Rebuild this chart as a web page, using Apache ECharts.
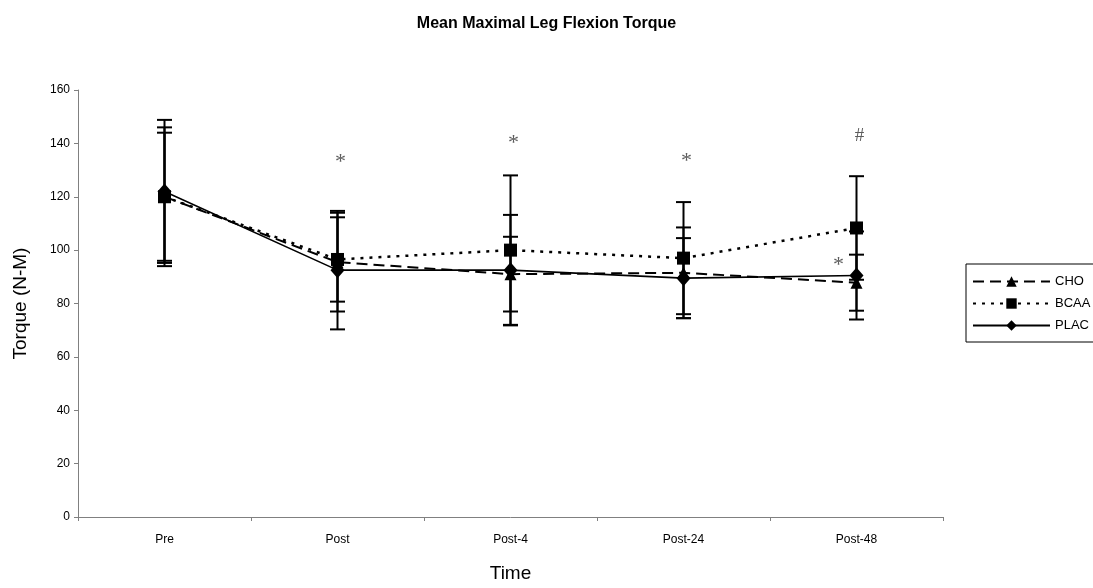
<!DOCTYPE html>
<html>
<head>
<meta charset="utf-8">
<script src="https://cdn.jsdelivr.net/npm/echarts@6/dist/echarts.min.js"></script>
<style>
html,body{margin:0;padding:0;background:#fff;}
#chart{width:1093px;height:588px;}
</style>
</head>
<body>
<div id="chart"></div>
<script>
const categories = ['Pre', 'Post', 'Post-4', 'Post-24', 'Post-48'];
const yTicks = [0, 20, 40, 60, 80, 100, 120, 140, 160];
const choMean = [120, 95.5, 91, 91.5, 87.8];
const choErr = [26, 18.5, 14, 17, 10.5];
const bcaaMean = [120, 96.5, 100, 97, 108.3];
const bcaaErr = [24, 15.8, 28, 21, 19.4];
const placMean = [122, 92.5, 92.5, 89.5, 90.5];
const placErr = [26.8, 22.2, 20.7, 15, 16.5];
const noteLabels = ['*', '*', '*', '#', '*'];
const noteCats = ['Post', 'Post-4', 'Post-24', 'Post-48', 'Post-48'];
const noteValues = [133.0, 140.2, 133.4, 142.6, 94.4];

const FONT = 'Liberation Sans, Arial, sans-serif';

function errData(mean, err) {
  return mean.map((m, i) => [i, m - err[i], m + err[i]]);
}
function errSeries(name, mean, err) {
  return {
    type: 'custom',
    name: name + ' err',
    z: 5,
    data: errData(mean, err),
    renderItem: function (params, api) {
      const x = api.value(0);
      const lo = api.coord([x, api.value(1)]);
      const hi = api.coord([x, api.value(2)]);
      const w = 7.5;
      const st = { stroke: '#000', lineWidth: 2 };
      return {
        type: 'group',
        children: [
          { type: 'line', shape: { x1: lo[0], y1: lo[1], x2: hi[0], y2: hi[1] }, style: st },
          { type: 'line', shape: { x1: lo[0] - w, y1: lo[1], x2: lo[0] + w, y2: lo[1] }, style: st },
          { type: 'line', shape: { x1: hi[0] - w, y1: hi[1], x2: hi[0] + w, y2: hi[1] }, style: st }
        ]
      };
    }
  };
}

const chart = echarts.init(document.getElementById('chart'));
chart.setOption({
  animation: false,
  backgroundColor: '#fff',
  title: {
    text: 'Mean Maximal Leg Flexion Torque',
    left: 'center',
    top: 11,
    textStyle: { fontFamily: FONT, fontSize: 16, fontWeight: 'bold', color: '#000' }
  },
  legend: {
    orient: 'vertical',
    left: 966,
    top: 264,
    padding: [11, 4, 10, 6],
    itemWidth: 77,
    itemHeight: 13,
    itemGap: 9,
    borderColor: '#000',
    borderWidth: 1,
    data: ['CHO', 'BCAA', 'PLAC'],
    textStyle: { fontFamily: FONT, fontSize: 13, color: '#000', padding: [0, 0, 0, 0], lineHeight: 13 }
  },
  grid: { left: 78, right: 150, top: 90, bottom: 67 },
  xAxis: {
    type: 'category',
    data: categories,
    boundaryGap: true,
    name: 'Time',
    nameLocation: 'middle',
    nameGap: 47,
    nameTextStyle: { fontFamily: FONT, fontSize: 19, color: '#000' },
    axisLine: { lineStyle: { color: '#808080', width: 1 } },
    axisTick: { show: true, length: 4, lineStyle: { color: '#808080' } },
    axisLabel: { fontFamily: FONT, fontSize: 12, color: '#000', margin: 17 }
  },
  yAxis: {
    type: 'value',
    min: 0,
    max: 160,
    interval: 20,
    name: 'Torque (N-M)',
    nameLocation: 'middle',
    nameGap: 48,
    nameTextStyle: { fontFamily: FONT, fontSize: 19, color: '#000' },
    axisLine: { show: true, lineStyle: { color: '#808080', width: 1 } },
    axisTick: { show: true, length: 4, lineStyle: { color: '#808080' } },
    splitLine: { show: false },
    axisLabel: {
      fontFamily: FONT, fontSize: 12, color: '#000', margin: 8,
      formatter: v => (yTicks.indexOf(v) >= 0 ? String(v) : '')
    }
  },
  series: [
    {
      name: 'CHO', type: 'line', data: choMean, z: 3,
      symbol: 'triangle', symbolSize: 12,
      itemStyle: { color: '#000' },
      lineStyle: { color: '#000', width: 2, type: [11, 6] }
    },
    {
      name: 'BCAA', type: 'line', data: bcaaMean, z: 3,
      symbol: 'rect', symbolSize: 13,
      itemStyle: { color: '#000' },
      lineStyle: { color: '#000', width: 2.5, type: [3, 6] }
    },
    {
      name: 'PLAC', type: 'line', data: placMean, z: 3,
      symbol: 'diamond', symbolSize: [14, 16],
      itemStyle: { color: '#000' },
      lineStyle: { color: '#000', width: 1.6, type: 'solid' }
    },
    errSeries('CHO', choMean, choErr),
    errSeries('BCAA', bcaaMean, bcaaErr),
    errSeries('PLAC', placMean, placErr),
    {
      type: 'scatter',
      name: 'notes',
      symbolSize: 0,
      z: 6,
      data: noteCats.map((c, i) => ({
        value: [c, noteValues[i]],
        label: {
          show: true,
          formatter: noteLabels[i],
          position: 'inside',
          offset: i === 4 ? [-18, 0] : [3, 0],
          fontFamily: 'Liberation Serif, Times New Roman, serif',
          fontSize: i === 3 ? 19 : 22,
          color: '#333'
        }
      }))
    }
  ]
});
</script>
</body>
</html>
